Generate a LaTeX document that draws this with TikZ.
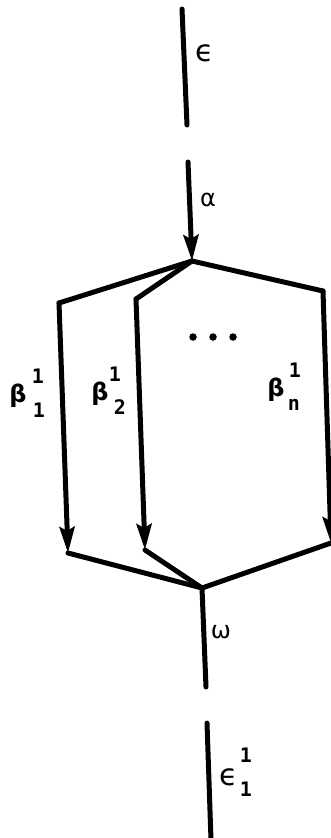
\documentclass[tikz,border=0pt]{standalone}
\usepackage{fontspec}
\setmainfont{DejaVu Sans}
\newfontfamily\idxfont{DejaVu Sans Mono}
\usetikzlibrary{arrows.meta}
\begin{document}
\begin{tikzpicture}[x=1pt,y=-1pt,
  edge/.style={line width=5pt,line cap=round,line join=round},
  arr/.style={edge,-{Stealth[length=26pt,width=15pt,inset=4pt]}},
  lab/.style={inner sep=0pt,font=\fontsize{24}{24}\selectfont},
  eps/.style={inner sep=0pt,font=\fontsize{30}{30}\selectfont},
  idx/.style={inner sep=0pt,font=\idxfont\bfseries\fontsize{20}{20}\selectfont},
  dot/.style={circle,fill,inner sep=0pt,minimum size=7.5pt}]
\useasboundingbox (0,0) rectangle (330,838);
% coordinates
\coordinate (e1) at (182,9);
\coordinate (e2) at (187,125);
\coordinate (a1) at (188,162);
\coordinate (J) at (192,261);
\coordinate (L1) at (59,303);
\coordinate (L2) at (68,553);
\coordinate (M1) at (136,299);
\coordinate (M2) at (145,550);
\coordinate (R1) at (323,291);
\coordinate (R2) at (331,543);
\coordinate (K) at (202,588);
\coordinate (w2) at (206,687);
\coordinate (b1) at (207,723);
\coordinate (b2) at (211,840);
% lines
\draw[edge] (e1) -- (e2);
\draw[arr] (a1) -- (J);
\draw[edge] (J) -- (L1);
\draw[edge] (J) -- (M1);
\draw[edge] (J) -- (R1);
\draw[arr] (L1) -- (L2);
\draw[arr] (M1) -- (M2);
\draw[arr] (R1) -- (R2);
\draw[edge] (L2) -- (K);
\draw[edge] (M2) -- (K);
\draw[edge] (R2) -- (K);
\draw[edge] (K) -- (w2);
\draw[edge] (b1) -- (b2);
% labels
\node[eps] (le) at (205,53) {ϵ};
\node[lab] (la) at (208,200) {α};
\node[lab] (lw) at (221,632) {ω};
\node[eps] (lb) at (229,777) {ϵ};
\node[idx] (lbs) at (246,755) {1};
\node[idx] (lbi) at (246,789) {1};
\node[lab,font=\bfseries\fontsize{24}{24}\selectfont] (b1b) at (18,396) {β};
\node[idx] (b1s) at (38,376) {1};
\node[idx] (b1i) at (39,410) {1};
\node[lab,font=\bfseries\fontsize{24}{24}\selectfont] (b2b) at (100,394) {β};
\node[idx] (b2s) at (115,374) {1};
\node[idx] (b2i) at (120,407) {2};
\node[lab,font=\bfseries\fontsize{24}{24}\selectfont] (bnb) at (276,390) {β};
\node[idx] (bns) at (295,370) {1};
\node[idx] (bni) at (294,405) {n};
\node[dot] (d1) at (193,337) {};
\node[dot] (d2) at (213,337) {};
\node[dot] (d3) at (233,337) {};
\end{tikzpicture}
\end{document}
